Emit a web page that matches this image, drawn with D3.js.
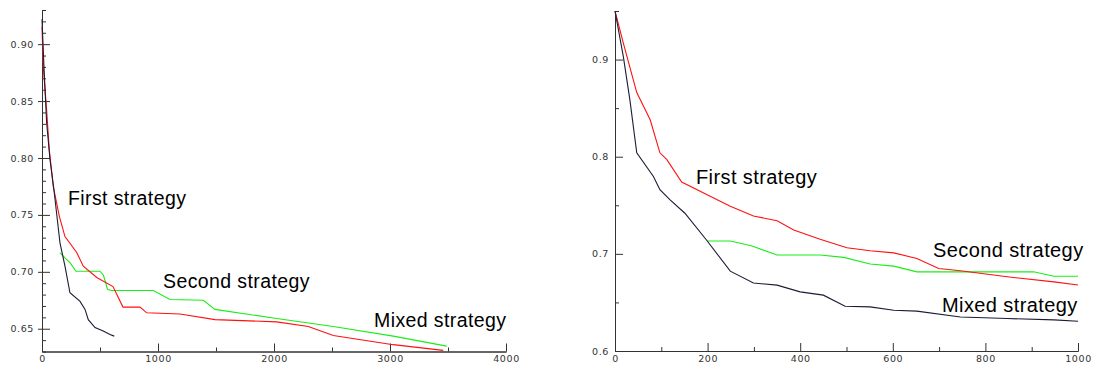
<!DOCTYPE html>
<html>
<head>
<meta charset="utf-8">
<script src="https://cdn.jsdelivr.net/npm/d3@7"></script>
<style>
  body { margin: 0; background: #fff; }
  .tick text { font-family: "DejaVu Sans", sans-serif; font-size: 9.5px; fill: #333; letter-spacing: 0.6px; }
  .domain, .tick line { stroke: #333; }
  .label { font-family: "Liberation Sans", Arial, sans-serif; fill: #000; letter-spacing: 0.4px; }
</style>
</head>
<body>
<div id="chart"></div>
<script>
// Left chart: values, [iteration, value]
const leftFirst = [[0,0.915],[11,0.880],[40,0.842],[63,0.807],[97,0.775],[149,0.749],[198,0.731],[299,0.717],[356,0.705],[472,0.695],[612,0.687],[698,0.669],[845,0.669],[902,0.664],[1190,0.663],[1491,0.658],[2023,0.656],[2296,0.652],[2511,0.644],[3028,0.636],[3459,0.631]];
const leftSecond = [[155,0.7167],[200,0.712],[241,0.708],[293,0.7005],[500,0.7005],[530,0.697],[565,0.6845],[601,0.6836],[960,0.6836],[1103,0.6757],[1391,0.675],[1491,0.667],[2023,0.659],[2511,0.652],[3028,0.6435],[3489,0.6347]];
const leftMixed = [[0,0.922],[17,0.880],[40,0.831],[69,0.7985],[103,0.772],[132,0.746],[155,0.7255],[198,0.705],[241,0.6816],[328,0.674],[371,0.667],[399,0.658],[457,0.651],[528,0.648],[586,0.645],[623,0.6435]];

// Right chart
const rightFirst = [[0,0.95],[18,0.917],[47,0.866],[76,0.838],[97,0.804],[112,0.797],[144,0.774],[198,0.761],[249,0.749],[299,0.739],[350,0.734],[386,0.7246],[443,0.715],[501,0.7063],[551,0.7032],[602,0.701],[652,0.6953],[699,0.685],[746,0.6826],[847,0.6764],[948,0.6712],[1000,0.668]];
const rightSecond = [[200,0.7132],[249,0.7132],[296,0.708],[350,0.6988],[443,0.6988],[494,0.6964],[551,0.6895],[602,0.6874],[652,0.6815],[904,0.6815],[948,0.677],[1000,0.677]];
const rightMixed = [[0,0.95],[18,0.903],[32,0.859],[47,0.804],[83,0.7796],[97,0.766],[119,0.7555],[151,0.7418],[198,0.714],[249,0.6822],[299,0.670],[350,0.6678],[400,0.6609],[450,0.6575],[497,0.646],[551,0.6454],[602,0.642],[652,0.641],[746,0.635],[847,0.6334],[948,0.632],[1000,0.6306]];

// tick values
const leftXMajor = [0, 1000, 2000, 3000, 4000];
const leftXMinor = [500, 1500, 2500, 3500];
const leftYMajor = [0.65, 0.70, 0.75, 0.80, 0.85, 0.90];
const leftYMinor = [0.63,0.64,0.66,0.67,0.68,0.69,0.71,0.72,0.73,0.74,0.76,0.77,0.78,0.79,0.81,0.82,0.83,0.84,0.86,0.87,0.88,0.89,0.91,0.92,0.93];
const rightXMajor = [0, 200, 400, 600, 800, 1000];
const rightXMinor = [100, 300, 500, 700, 900];
const rightYMajor = [0.6, 0.7, 0.8, 0.9];
const rightYMinor = [0.65, 0.75, 0.85, 0.95];

const labelNames = ["First strategy", "Second strategy", "Mixed strategy"];

const width = 1097, height = 366;
const colors = { first: "#ff1010", second: "#18ee18", mixed: "#1c1c36" };

const svg = d3.select("#chart").append("svg")
    .attr("width", width)
    .attr("height", height);

function drawPanel(cfg) {
    const x = d3.scaleLinear().domain(cfg.xDomain).range(cfg.xRange);
    const y = d3.scaleLinear().domain(cfg.yDomain).range(cfg.yRange);
    const g = svg.append("g");

    // x axis, ticks pointing up into the plot
    g.append("g")
        .attr("transform", `translate(0,${cfg.yRange[0]})`)
        .call(d3.axisBottom(x).tickValues(cfg.xMinor).tickSizeInner(-4).tickSizeOuter(0).tickFormat(""));
    g.append("g")
        .attr("transform", `translate(0,${cfg.yRange[0]})`)
        .call(d3.axisBottom(x).tickValues(cfg.xMajor).tickSizeInner(-8).tickSizeOuter(0)
            .tickPadding(4).tickFormat(d3.format("d")));

    // y axis
    g.append("g")
        .attr("transform", `translate(${cfg.xRange[0]},0)`)
        .call(d3.axisLeft(y).tickValues(cfg.yMinor).tickSizeInner(-4).tickSizeOuter(0).tickFormat(""));
    g.append("g")
        .attr("transform", `translate(${cfg.xRange[0]},0)`)
        .call(d3.axisLeft(y).tickValues(cfg.yMajor).tickSizeInner(-8).tickSizeOuter(0)
            .tickPadding(cfg.yPad).tickFormat(d3.format(cfg.yFormat)));
    if (cfg.crossTicks) {
        g.append("g")
            .attr("transform", `translate(${cfg.xRange[0]},0)`)
            .call(d3.axisLeft(y).tickValues(cfg.yMajor).tickSizeInner(4).tickSizeOuter(0).tickFormat(""))
            .select(".domain").remove();
    }

    const line = d3.line().x(d => x(d[0])).y(d => y(d[1]));
    [["second", cfg.second], ["first", cfg.first], ["mixed", cfg.mixed]].forEach(([k, data]) => {
        g.append("path")
            .datum(data)
            .attr("d", line)
            .attr("fill", "none")
            .attr("stroke", colors[k])
            .attr("stroke-width", 1.1);
    });

    cfg.labels.forEach((p, i) => {
        g.append("text")
            .attr("class", "label")
            .attr("x", p[0])
            .attr("y", p[1])
            .style("font-size", cfg.labelSize + "px")
            .text(labelNames[i]);
    });
}

drawPanel({
    xDomain: [0, 4000], xRange: [42, 506],
    yDomain: [0.63, 0.93], yRange: [351.5, 10],
    xMajor: leftXMajor, xMinor: leftXMinor, yMajor: leftYMajor, yMinor: leftYMinor,
    yFormat: ".2f", yPad: 8, crossTicks: true, labelSize: 19.5,
    first: leftFirst, second: leftSecond, mixed: leftMixed,
    labels: [[68, 205], [163, 288], [374, 327]]
});

drawPanel({
    xDomain: [0, 1000], xRange: [615, 1078],
    yDomain: [0.6, 0.95], yRange: [351, 11],
    xMajor: rightXMajor, xMinor: rightXMinor, yMajor: rightYMajor, yMinor: rightYMinor,
    yFormat: ".1f", yPad: 6, crossTicks: false, labelSize: 20,
    first: rightFirst, second: rightSecond, mixed: rightMixed,
    labels: [[696, 184], [933, 257], [942, 312]]
});
</script>
</body>
</html>
